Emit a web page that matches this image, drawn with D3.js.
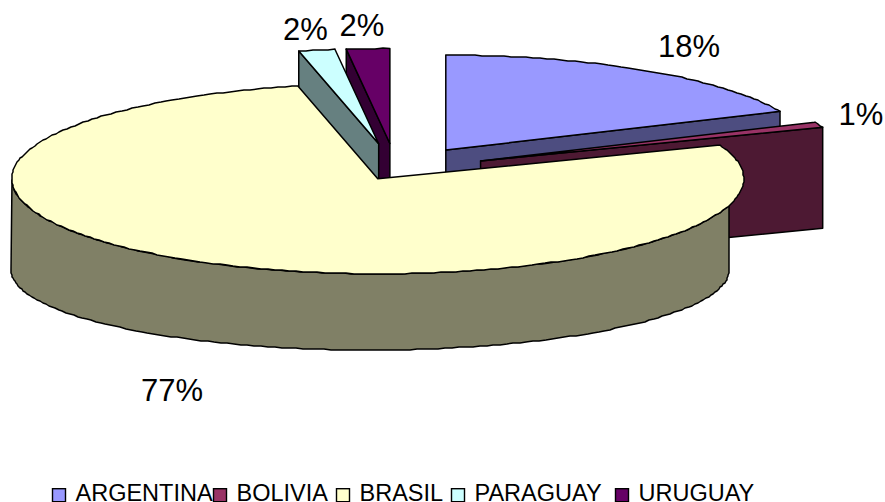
<!DOCTYPE html>
<html>
  <head>
    <title>Pie chart</title>
    <style>
      html,
      body {
        margin: 0;
        background: #fff;
      }

      svg {
        display: block;
      }

      text {
        font-family: 'Liberation Sans', Arial, sans-serif;
        fill: #000;
      }
    </style>
  </head>
  <body>
    <svg id="svg" width="885" height="502"></svg>
    <script src="https://cdn.jsdelivr.net/npm/d3@7"></script>
    <script>
      const categories = ['ARGENTINA', 'BOLIVIA', 'BRASIL', 'PARAGUAY', 'URUGUAY'];
      const shares = [18.3, 0.9, 77.2, 1.6, 1.9];
      const topColors = ['#9999ff', '#993366', '#ffffcc', '#ccffff', '#660066'];
      const sideColors = ['#4d4d80', '#4d1933', '#808066', '#668080', '#330033'];

      // layout
      const explode = [0.25, 0.25, 0.105, 0.28, 0.28];
      const labelX = [689, 861, 172, 305.5, 362];
      const labelY = [57, 125, 401, 40, 36];
      const legendX = [75.5, 236.5, 359.5, 474.5, 638.5];
      const center = { x: 396, y: 170 };
      const rx = 366;
      const ry = 95;
      const depth = 101;
      // the big slice has perspective, its floor is a smaller ellipse
      const floor = { dx: -7.7, y: 270, rx: 359, ry: 80 };

      const svg = d3.select('#svg');
      const color = d3.scaleOrdinal().domain(categories).range(topColors);
      const side = d3.scaleOrdinal().domain(categories).range(sideColors);
      const pie = d3.pie().sort(null).value((d) => d.share);
      const line = d3.line();
      const percent = d3.format('.0%');

      const total = d3.sum(shares);
      const rows = categories.map((name, i) => ({ name, share: shares[i] }));
      const slices = pie(rows).map((s, i) => {
        const mid = (s.startAngle + s.endAngle) / 2;
        return {
          ...s,
          mid,
          name: s.data.name,
          ox: center.x + explode[i] * rx * Math.sin(mid),
          oy: center.y - explode[i] * ry * Math.cos(mid),
        };
      });

      // curves snap to whole pixels, the original outline is wobbly too
      const snap = ([x, y]) => [Math.round(x), Math.round(y)];
      const rim = (s, a) => [s.ox + rx * Math.sin(a), s.oy - ry * Math.cos(a)];
      const steps = (a0, a1, step = 0.02) => d3.range(a0, a1, step);

      const drawShape = (pts, fill) =>
        svg
          .append('path')
          .attr('d', line(pts) + 'Z')
          .attr('fill', fill)
          .attr('stroke', '#000')
          .attr('stroke-width', 1.5)
          .attr('stroke-linejoin', 'round');

      const drawCutFace = (s) => {
        // only the cut face turned towards the viewer
        const a = s.mid < Math.PI ? s.endAngle : s.startAngle;
        const [x, y] = rim(s, a);
        drawShape(
          [
            [s.ox, s.oy],
            [x, y],
            [x, y + depth],
            [s.ox, s.oy + depth],
          ],
          side(s.name)
        );
      };

      const drawRimWall = (s) => {
        const fx = s.ox + floor.dx;
        const right = fx + floor.rx;
        const cutAngle = Math.PI - Math.asin((right - s.ox) / rx);
        const lower = steps(Math.PI / 2, (3 * Math.PI) / 2)
          .reverse()
          .map((a) =>
            snap([fx + floor.rx * Math.sin(a), floor.y - floor.ry * Math.cos(a)])
          );
        const upper = steps(cutAngle, (3 * Math.PI) / 2).map((a) =>
          snap(rim(s, a))
        );
        drawShape(lower.concat(upper), side(s.name));
      };

      const drawTop = (s) => {
        const pts = steps(s.startAngle, s.endAngle).map((a) => snap(rim(s, a)));
        drawShape(
          [[s.ox, s.oy], rim(s, s.startAngle), ...pts, rim(s, s.endAngle)],
          color(s.name)
        );
      };

      // painter's order, back slices first, Brasil last
      [0, 1, 4, 3, 2].forEach((i) => {
        const s = slices[i];
        if (s.endAngle - s.startAngle > Math.PI) drawRimWall(s);
        else drawCutFace(s);
        drawTop(s);
      });

      svg
        .append('g')
        .attr('font-size', 31)
        .attr('text-anchor', 'middle')
        .selectAll('text')
        .data(slices)
        .join('text')
        .attr('x', (d, i) => labelX[i])
        .attr('y', (d, i) => labelY[i])
        .text((d) => percent(d.data.share / total));

      const legend = svg
        .append('g')
        .selectAll('g')
        .data(categories)
        .join('g')
        .attr('transform', (d, i) => `translate(${legendX[i]}, 494)`);

      legend
        .append('rect')
        .attr('x', -23)
        .attr('y', -5.3)
        .attr('width', 13)
        .attr('height', 13)
        .attr('fill', (d) => color(d))
        .attr('stroke', '#000')
        .attr('stroke-width', 1.4);

      legend
        .append('text')
        .attr('y', 6.5)
        .attr('font-size', 23.5)
        .text((d) => d);
    </script>
  </body>
</html>
